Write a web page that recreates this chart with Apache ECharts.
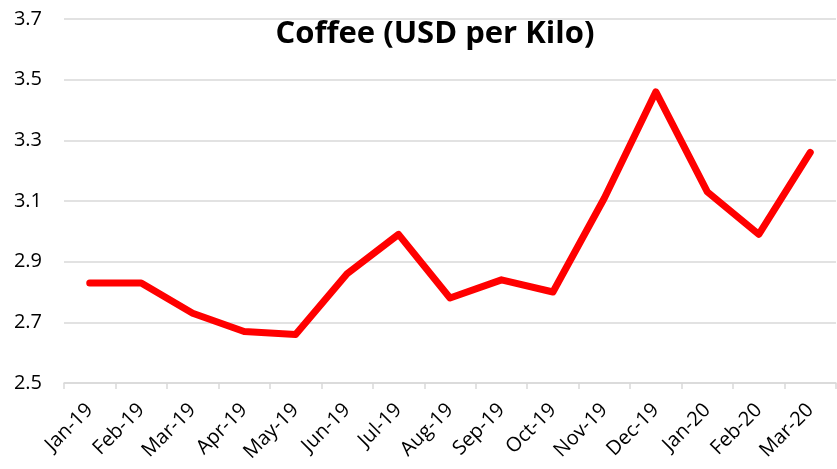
<!DOCTYPE html>
<html>
<head>
<meta charset="utf-8">
<script src="https://cdn.jsdelivr.net/npm/echarts@6/dist/echarts.min.js"></script>
<style>
  html, body { margin: 0; padding: 0; background: #fff; }
  #chart { width: 837px; height: 469px; }
</style>
</head>
<body>
<div id="chart"></div>
<script>
// Monthly coffee price, USD per kilo
const months = ['Jan-19', 'Feb-19', 'Mar-19', 'Apr-19', 'May-19', 'Jun-19', 'Jul-19',
  'Aug-19', 'Sep-19', 'Oct-19', 'Nov-19', 'Dec-19', 'Jan-20', 'Feb-20', 'Mar-20'];
const prices = [2.83, 2.83, 2.73, 2.67, 2.66, 2.86, 2.99, 2.78, 2.84, 2.80, 3.11, 3.46, 3.13, 2.99, 3.26];
const yMin = 2.5, yMax = 3.7, yStep = 0.2;

const font = '"Open Sans", "Liberation Sans", sans-serif';
const chart = echarts.init(document.getElementById('chart'));
chart.setOption({
  animation: false,
  title: {
    text: 'Coffee (USD per Kilo)',
    left: 430,
    textAlign: 'center',
    top: 14,
    textStyle: { fontFamily: font, fontSize: 31, fontWeight: 'bold', color: '#000' }
  },
  grid: { left: 64, right: 1, top: 19, bottom: 86 },
  xAxis: {
    type: 'category',
    data: months,
    boundaryGap: true,
    axisLine: { lineStyle: { color: '#d9d9d9', width: 1.5 } },
    axisTick: { show: true, length: 6, lineStyle: { color: '#d9d9d9', width: 1.5 } },
    axisLabel: { rotate: 45, margin: 24, fontFamily: font, fontSize: 20, color: '#000', interval: 0 }
  },
  yAxis: {
    type: 'value',
    min: yMin, max: yMax, interval: yStep,
    axisLine: { show: false },
    axisTick: { show: false },
    axisLabel: { margin: 22, fontFamily: font, fontSize: 20, color: '#000',
      formatter: v => v.toFixed(1) },
    splitLine: { lineStyle: { color: '#d9d9d9', width: 1.5 } }
  },
  series: [{
    type: 'line',
    data: prices,
    symbol: 'none',
    lineStyle: { color: '#ff0000', width: 7, cap: 'round', join: 'round' }
  }]
});
</script>
</body>
</html>
